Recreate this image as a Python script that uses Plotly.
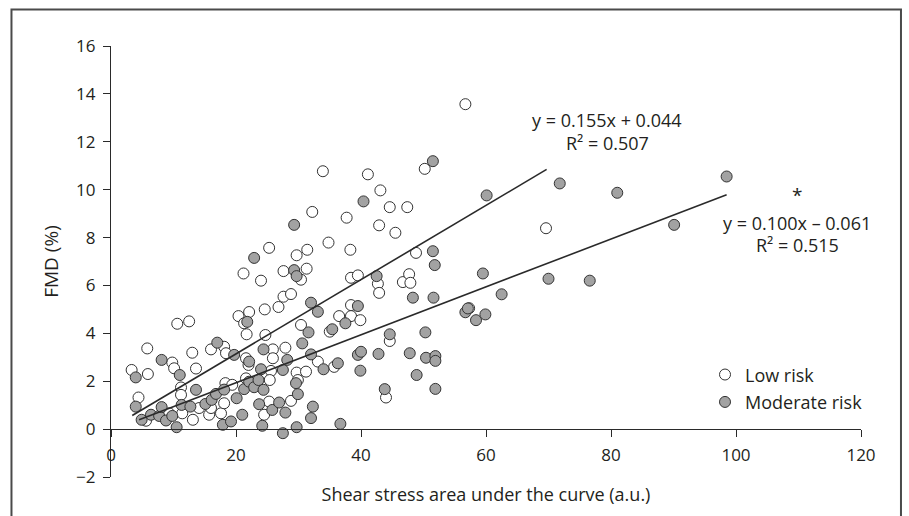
import plotly.graph_objects as go

# ---- data ----
low_x = [3.3, 4.4, 5.6, 5.8, 5.9, 9.3, 9.8, 10.1, 10.6, 11.2, 11.2, 11.4, 12.5, 13.0, 13.1,
         13.6, 14.1, 15.7, 16.0, 16.0, 17.6, 18.1, 18.4, 18.1, 18.3, 19.4, 20.4, 21.3, 21.7,
         22.1, 21.6, 22.0, 21.6, 21.2, 24.0, 24.6, 24.7, 25.3, 25.9, 25.9, 25.6, 25.4, 25.3,
         24.5, 26.8, 27.6, 27.6, 28.8, 27.9, 28.8, 29.7, 29.7, 29.9, 30.4, 30.4, 31.2, 31.3,
         31.4, 32.2, 33.1, 33.9, 34.8, 35.0, 35.7, 36.5, 37.7, 38.3, 38.4, 38.4, 38.4, 39.5,
         39.9, 41.1, 42.7, 42.9, 42.9, 43.1, 44.0, 44.6, 44.6, 45.5, 46.7, 47.4, 47.7, 47.9,
         48.8, 50.2, 56.7, 57.3, 69.6]
low_y = [2.47, 1.32, 0.35, 3.37, 2.30, 0.66, 2.78, 2.54, 4.40, 1.74, 1.43, 0.66, 4.50, 3.19, 0.39,
         2.53, 0.88, 0.60, 3.33, 0.88, 0.66, 3.44, 3.17, 1.08, 1.92, 1.85, 4.72, 4.42, 3.96,
         4.89, 2.96, 2.68, 2.12, 6.50, 6.20, 5.00, 3.93, 7.57, 3.33, 2.96, 2.43, 2.05, 1.15,
         0.60, 5.10, 6.60, 5.53, 5.64, 3.40, 1.18, 7.26, 2.36, 2.05, 6.24, 4.35, 2.40, 6.70,
         7.49, 9.07, 2.82, 10.77, 7.79, 4.07, 2.60, 4.72, 8.83, 7.49, 6.32, 5.18, 4.72, 6.42,
         4.55, 10.64, 6.07, 5.69, 8.51, 9.97, 1.32, 3.68, 9.27, 8.20, 6.14, 9.27, 6.47, 6.11,
         7.36, 10.87, 13.57, 5.05, 8.39]

mod_x = [3.96, 3.96, 4.9, 6.4, 7.7, 8.1, 8.1, 8.8, 9.8, 10.5, 11.0, 11.3, 12.7, 13.6, 15.1,
         16.1, 16.8, 17.0, 18.1, 17.9, 19.2, 19.7, 20.1, 21.0, 21.3, 21.8, 22.1, 22.1, 22.9,
         22.9, 23.6, 23.7, 24.0, 24.2, 24.4, 24.4, 25.8, 26.9, 27.5, 27.5, 27.9, 28.2, 29.3,
         29.3, 29.7, 29.6, 29.9, 29.7, 30.6, 31.6, 32.0, 32.0, 32.3, 32.0, 33.1, 34.0, 35.4,
         36.3, 36.7, 37.5, 39.5, 39.5, 40.0, 39.9, 40.4, 42.5, 42.8, 43.8, 44.6, 47.8, 48.3,
         48.9, 50.3, 50.4, 51.5, 51.5, 51.8, 51.6, 51.9, 51.9, 51.9, 56.7, 57.1, 58.4, 59.5,
         59.9, 60.1, 62.5, 70.0, 71.8, 76.6, 81.0, 90.1, 98.5]
mod_y = [2.16, 0.94, 0.39, 0.60, 0.55, 2.89, 0.92, 0.36, 0.55, 0.08, 2.26, 1.01, 0.94, 1.64, 1.05,
         1.22, 1.47, 3.61, 1.65, 0.18, 0.32, 3.10, 1.29, 0.60, 1.67, 4.48, 2.82, 1.98, 1.75,
         7.15, 2.05, 1.04, 2.50, 0.14, 3.33, 1.64, 0.80, 1.11, 2.47, -0.17, 0.69, 2.89, 8.53,
         6.64, 6.39, 1.92, 1.46, 0.08, 3.58, 4.04, 5.28, 3.12, 0.94, 0.46, 4.90, 2.50, 4.17,
         2.75, 0.22, 4.42, 5.14, 3.10, 3.23, 2.44, 9.51, 6.39, 3.14, 1.67, 3.96, 3.17, 5.49,
         2.26, 4.04, 2.98, 11.19, 7.43, 6.85, 5.49, 3.05, 2.85, 1.68, 4.88, 5.04, 4.55, 6.50,
         4.79, 9.76, 5.63, 6.28, 10.26, 6.20, 9.87, 8.53, 10.55]

# regression lines (from the chart's equations) and their x extents
low_fit = {"slope": 0.155, "intercept": 0.044, "x": [3.4, 69.7]}
mod_fit = {"slope": 0.100, "intercept": -0.061, "x": [4.5, 98.5]}

x_ticks = [0, 20, 40, 60, 80, 100, 120]
y_ticks = [-2, 0, 2, 4, 6, 8, 10, 12, 14, 16]

FONT = "Open Sans"
TXT = "#231f20"
LINE = "#2a2a2a"

fig = go.Figure()

fig.add_trace(go.Scatter(
    x=low_x, y=low_y, mode="markers", name="Low risk", legendgroup="a",
    marker=dict(size=11, color="white", line=dict(color="#333333", width=1)),
    cliponaxis=False))
fig.add_trace(go.Scatter(
    x=mod_x, y=mod_y, mode="markers", name="Moderate risk", legendgroup="b",
    marker=dict(size=11, color="#a2a2a2", line=dict(color="#333333", width=1)),
    cliponaxis=False))

for fit in (low_fit, mod_fit):
    xs = fit["x"]
    ys = [fit["slope"] * v + fit["intercept"] for v in xs]
    fig.add_trace(go.Scatter(x=xs, y=ys, mode="lines", showlegend=False,
                             line=dict(color=LINE, width=1.6), hoverinfo="skip"))

fig.update_layout(
    width=909, height=516,
    margin=dict(l=111, r=48, t=46, b=39),
    paper_bgcolor="white", plot_bgcolor="white",
    font=dict(family=FONT, size=17, color=TXT),
    showlegend=True,
    legend=dict(x=0.792, y=0.28, xanchor="left", yanchor="top",
                bgcolor="rgba(0,0,0,0)", font=dict(size=18, family=FONT, color=TXT),
                tracegroupgap=1, traceorder="grouped", itemwidth=30),
    xaxis=dict(range=[0, 120], tickvals=x_ticks, showgrid=False, zeroline=False,
               showline=True, linecolor=LINE, linewidth=1.2,
               ticks="outside", ticklen=7, tickcolor=LINE, tickwidth=1.2,
               ticklabelstandoff=3, tickfont=dict(size=17),
               anchor="free", position=2 / 18,
               title=dict(text="Shear stress area under the curve (a.u.)", standoff=23,
                          font=dict(size=18, family=FONT, color=TXT))),
    yaxis=dict(range=[-2, 16], tickvals=y_ticks, showgrid=False, zeroline=False,
               showline=True, linecolor=LINE, linewidth=1.2,
               ticks="outside", ticklen=7, tickcolor=LINE, tickwidth=1.2,
               ticklabelstandoff=4, tickfont=dict(size=17),
               title=dict(text="FMD (%)", standoff=12,
                          font=dict(size=19, family=FONT, color=TXT))),
)

ann = [
    (79.4, 12.92, "y = 0.155x + 0.044", 18, "middle"),
    (79.4, 11.95, "R² = 0.507", 18, "middle"),
    (109.8, 9.15, "*", 19, "bottom"),
    (109.8, 8.6, "y = 0.100x – 0.061", 18, "middle"),
    (109.8, 7.68, "R² = 0.515", 18, "middle"),
]
for x, y, t, s, ya in ann:
    fig.add_annotation(x=x, y=y, text=t, showarrow=False, xanchor="center", yanchor=ya,
                       font=dict(size=s, family=FONT, color=TXT))

# outer frame of the figure panel
fig.add_shape(type="rect", xref="paper", yref="paper",
              x0=-0.1327, x1=1.0533, y0=-0.2, y1=1.0846,
              line=dict(color="#4a4a4a", width=2), fillcolor="rgba(0,0,0,0)", layer="below")

fig.write_html("out.html")
